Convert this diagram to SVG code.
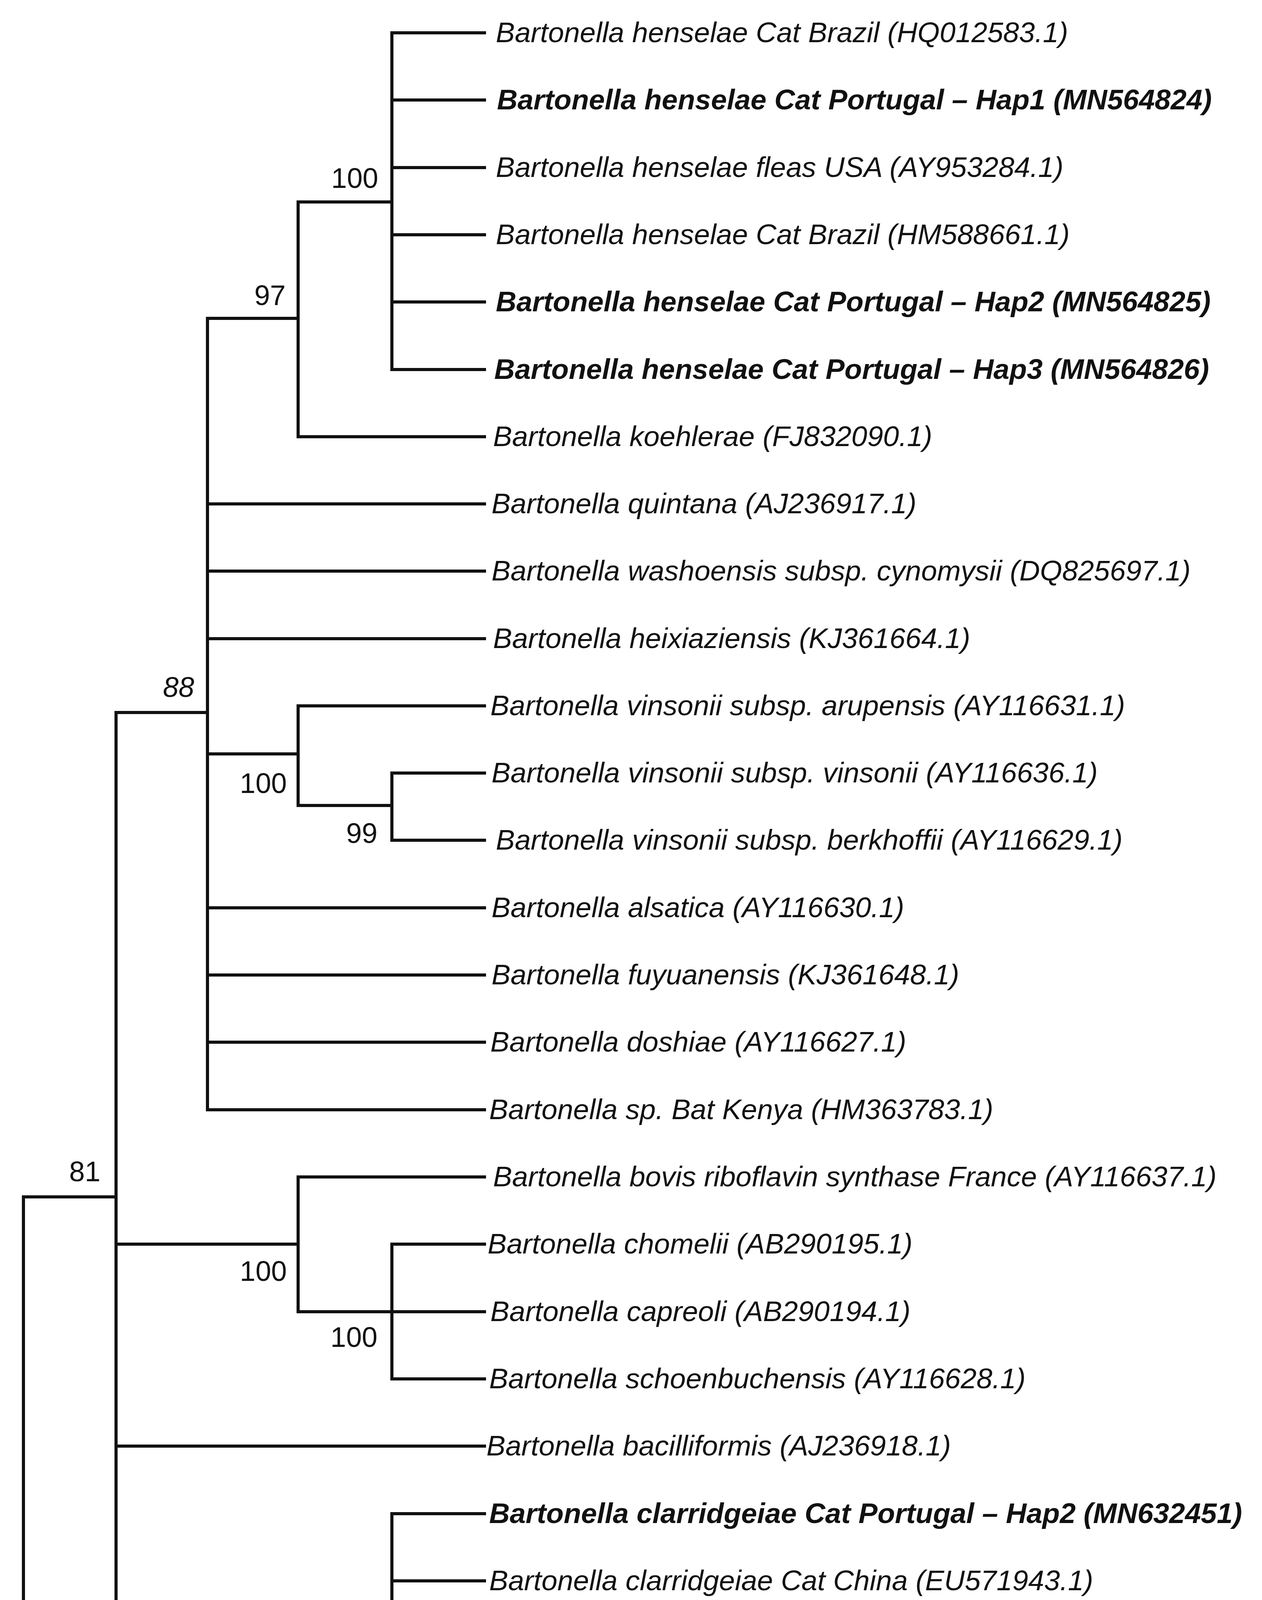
<svg xmlns="http://www.w3.org/2000/svg" width="3230" height="5302" viewBox="0 0 3230 5302">
<style>
.e{stroke:#111;stroke-width:8;fill:none;stroke-linecap:square}
.t{font-family:"Liberation Sans",Arial,sans-serif;font-size:73px;font-style:italic;fill:#111}
.b{font-weight:bold}
.n{font-family:"Liberation Sans",Arial,sans-serif;font-size:72px;fill:#111;text-anchor:end}
</style>
<rect width="3230" height="5302" fill="#fff"/>
<g id="connectors" class="e">
<path d="M60 3064V5251M60 3064H297M60 4985H1003M60 5251H1240"/>
<path d="M297 1824V4293M297 1824H531M297 3185H763M297 3702H1240M297 4293H1003"/>
<path d="M531 815V2841M531 815H763M531 1290H1240M531 1462H1240M531 1635H1240M531 1930H763M531 2324H1240M531 2496H1240M531 2668H1240M531 2841H1240"/>
<path d="M763 517V1118M763 517H1003M763 1118H1240"/>
<path d="M1003 84V946M1003 84H1240M1003 256H1240M1003 429H1240M1003 601H1240M1003 773H1240M1003 946H1240"/>
<path d="M763 1807V2062M763 1807H1240M763 2062H1003M1003 1979V2151M1003 1979H1240M1003 2151H1240"/>
<path d="M763 3013V3358M763 3013H1240M763 3358H1003M1003 3185V3530M1003 3185H1240M1003 3358H1240M1003 3530H1240"/>
<path d="M1003 3875V4736M1003 3875H1240M1003 4047H1240M1003 4220H1240M1003 4392H1240M1003 4564H1240M1003 4736H1240"/>
<path d="M1003 4908V5081M1003 4908H1240M1003 5081H1240"/>
</g>
<g id="support">
<text class="n" x="968" y="481">100</text>
<text class="n" x="731" y="781">97</text>
<text class="n" x="497" y="1784" font-style="italic">88</text>
<text class="n" x="734" y="2030">100</text>
<text class="n" x="966" y="2158">99</text>
<text class="n" x="257" y="3024">81</text>
<text class="n" x="734" y="3279">100</text>
<text class="n" x="966" y="3448">100</text>
<text class="n" x="966" y="4391">100</text>
<text class="n" x="966" y="5080">100</text>
</g>
<g id="leaves">
<text class="t" x="1269" y="108">Bartonella henselae Cat Brazil (HQ012583.1)</text>
<text class="t b" x="1272" y="280">Bartonella henselae Cat Portugal – Hap1 (MN564824)</text>
<text class="t" x="1269" y="453">Bartonella henselae fleas USA (AY953284.1)</text>
<text class="t" x="1269" y="625">Bartonella henselae Cat Brazil (HM588661.1)</text>
<text class="t b" x="1269" y="797">Bartonella henselae Cat Portugal – Hap2 (MN564825)</text>
<text class="t b" x="1265" y="970">Bartonella henselae Cat Portugal – Hap3 (MN564826)</text>
<text class="t" x="1262" y="1142">Bartonella koehlerae (FJ832090.1)</text>
<text class="t" x="1258" y="1314">Bartonella quintana (AJ236917.1)</text>
<text class="t" x="1258" y="1486">Bartonella washoensis subsp. cynomysii (DQ825697.1)</text>
<text class="t" x="1262" y="1659">Bartonella heixiaziensis (KJ361664.1)</text>
<text class="t" x="1255" y="1831">Bartonella vinsonii subsp. arupensis (AY116631.1)</text>
<text class="t" x="1258" y="2003">Bartonella vinsonii subsp. vinsonii (AY116636.1)</text>
<text class="t" x="1269" y="2175">Bartonella vinsonii subsp. berkhoffii (AY116629.1)</text>
<text class="t" x="1258" y="2348">Bartonella alsatica (AY116630.1)</text>
<text class="t" x="1258" y="2520">Bartonella fuyuanensis (KJ361648.1)</text>
<text class="t" x="1255" y="2692">Bartonella doshiae (AY116627.1)</text>
<text class="t" x="1252" y="2865">Bartonella sp. Bat Kenya (HM363783.1)</text>
<text class="t" x="1262" y="3037">Bartonella bovis riboflavin synthase France (AY116637.1)</text>
<text class="t" x="1248" y="3209">Bartonella chomelii (AB290195.1)</text>
<text class="t" x="1255" y="3382">Bartonella capreoli (AB290194.1)</text>
<text class="t" x="1252" y="3554">Bartonella schoenbuchensis (AY116628.1)</text>
<text class="t" x="1245" y="3726">Bartonella bacilliformis (AJ236918.1)</text>
<text class="t b" x="1252" y="3899">Bartonella clarridgeiae Cat Portugal – Hap2 (MN632451)</text>
<text class="t" x="1252" y="4071">Bartonella clarridgeiae Cat China (EU571943.1)</text>
<text class="t" x="1248" y="4244">Bartonella clarridgeiae (AJ236916.1)</text>
<text class="t" x="1242" y="4416">Bartonella clarridgeiae Japan (AB292604.1)</text>
<text class="t b" x="1245" y="4588">Bartonella clarridgeiae Cat Portugal – Hap1 (MN564827)</text>
<text class="t" x="1245" y="4760">Bartonella clarridgeiae Cat Brazil (KR092386.1)</text>
<text class="t" x="1245" y="4932">Candidatus Bartonella ancashi Peru (KC886734.1)</text>
<text class="t" x="1245" y="5105">Bartonella ancashensis (KP720649.1)</text>
<text class="t" x="1248" y="5275">Brucella melitensis (CP008750.1)</text>
</g>
</svg>
